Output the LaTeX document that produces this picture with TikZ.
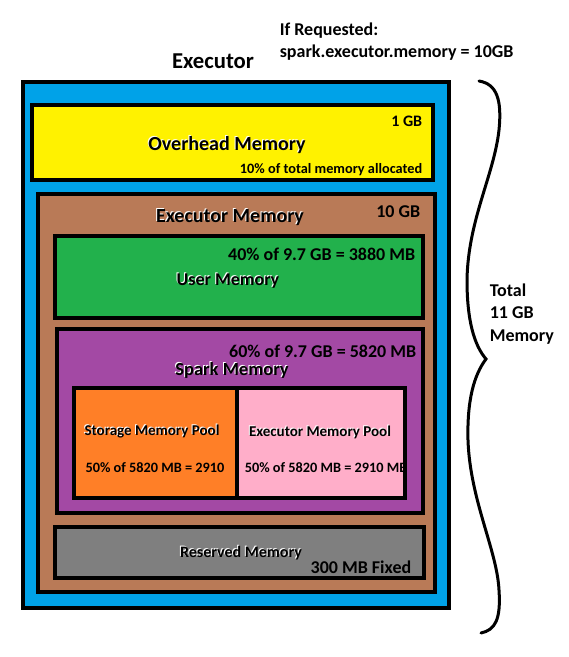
\documentclass[tikz,border=0pt]{standalone}
\usepackage{fontspec}
\setmainfont{Carlito}
\usetikzlibrary{positioning}

\definecolor{paintblue}{HTML}{00A2E8}
\definecolor{paintyellow}{HTML}{FFF200}
\definecolor{paintbrown}{HTML}{B97A57}
\definecolor{paintgreen}{HTML}{22B14C}
\definecolor{paintpurple}{HTML}{A349A4}
\definecolor{paintorange}{HTML}{FF7F27}
\definecolor{paintpink}{HTML}{FFAEC9}
\definecolor{paintgray}{HTML}{7F7F7F}

\newcommand{\glowtext}[1]{\rlap{\kern-1pt\raisebox{1pt}{\color{white}#1}}#1}

\begin{document}
\begin{tikzpicture}[ x=1pt , y=-1pt , line width=3.6pt ,
  block/.style={ draw , anchor=north west , inner sep=0pt , outer sep=0pt },
  big/.style={ font=\bfseries\fontsize{18}{20}\selectfont , inner sep=0pt },
  bigger/.style={ font=\bfseries\fontsize{20}{22}\selectfont , inner sep=0pt },
  small/.style={ font=\bfseries\fontsize{14.3}{16}\selectfont , inner sep=0pt },
  pool/.style={ font=\bfseries\fontsize{15}{17}\selectfont , inner sep=0pt } ]

\useasboundingbox (0,0) rectangle (569,657);

% nested memory blocks
\node [ block , fill=paintblue , minimum width=426 , minimum height=526 ] (exec) at (23,82) {};
\node [ block , fill=paintyellow , minimum width=401 , minimum height=75 ] (ovhd) at (32,105) {};
\node [ block , fill=paintbrown , minimum width=397 , minimum height=398 ] (execmem) at (38,194) {};
\node [ block , fill=paintgreen , minimum width=368 , minimum height=82 ] (usermem) at (55,236) {};
\node [ block , fill=paintpurple , minimum width=366 , minimum height=184 ] (sparkmem) at (57,329) {};
\node [ block , fill=paintorange , minimum width=163 , minimum height=110 ] (storpool) at (74,388) {};
\node [ block , fill=paintpink , minimum width=168 , minimum height=110 ] (execpool) at (237,388) {};
\node [ block , fill=paintgray , minimum width=369 , minimum height=51 ] (resmem) at (55,527) {};

% headings
\node [ font=\bfseries\fontsize{22.7}{25}\selectfont , inner sep=0pt , anchor=base ] (title) at (213,68) {Executor};
\node [ big , anchor=base west ] (req) at (278,35) {If Requested:};
\node [ big , anchor=base west ] (conf) at (278,57) {spark.executor.memory = 10GB};

% overhead
\node [ font=\bfseries\fontsize{16}{18}\selectfont , inner sep=0pt , anchor=base east ] (ovhd_size) at (424,126) {1 GB};
\node [ bigger , anchor=base ] (ovhd_name) at (227,150) {\glowtext{Overhead Memory}};
\node [ small , anchor=base east ] (ovhd_note) at (424,173) {10\% of total memory allocated};

% executor memory
\node [ bigger , anchor=base ] (execmem_name) at (230,222) {\glowtext{Executor Memory}};
\node [ big , anchor=base east ] (execmem_size) at (422,217) {10 GB};

% user memory
\node [ big , anchor=base east ] (usermem_size) at (417,260) {40\% of 9.7 GB = 3880 MB};
\node [ big , anchor=base ] (usermem_name) at (228,285) {\glowtext{User Memory}};

% spark memory
\node [ big , anchor=base east ] (sparkmem_size) at (418,357) {60\% of 9.7 GB = 5820 MB};
\node [ font=\bfseries\fontsize{18.5}{20}\selectfont , inner sep=0pt , anchor=base ] (sparkmem_name) at (232,375) {\glowtext{Spark Memory}};

% pools
\node [ pool , anchor=base ] (storpool_name) at (152,435) {\glowtext{Storage Memory Pool}};
\node [ small , anchor=base ] (storpool_size) at (155,472) {50\% of 5820 MB = 2910};
\node [ pool , anchor=base ] (execpool_name) at (320,436) {\glowtext{Executor Memory Pool}};
\node [ small , anchor=base west ] (execpool_size) at (243,472) {50\% of 5820 MB = 2910 MB};

% reserved
\node [ font=\bfseries\fontsize{16}{18}\selectfont , inner sep=0pt , anchor=base ] (resmem_name) at (241,557) {\glowtext{Reserved Memory}};
\node [ big , anchor=base east ] (resmem_size) at (413,573) {300 MB Fixed};

% brace and total
\draw [ line width=3pt , line cap=round ] (479,81) .. controls (497,84) and (502,100) .. (499,130)
  .. controls (494,175) and (468,220) .. (467,280)
  .. controls (467,320) and (474,345) .. (486,359)
  .. controls (474,375) and (467,400) .. (468,440)
  .. controls (470,500) and (497,550) .. (499,590)
  .. controls (501,620) and (495,630) .. (481,633);
\node [ font=\bfseries\fontsize{18}{22.5}\selectfont , inner sep=0pt , align=left , anchor=west ] (total) at (488,314) {Total\\11 GB\\Memory};
\end{tikzpicture}
\end{document}
